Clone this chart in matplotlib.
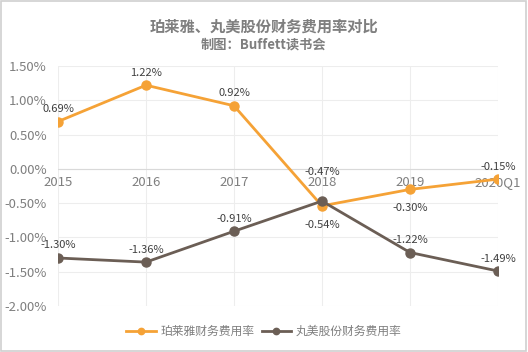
import matplotlib
matplotlib.use("Agg")
import matplotlib.pyplot as plt
from matplotlib.patches import Rectangle

plt.rcParams['font.family'] = ['Noto Sans CJK SC', 'DejaVu Sans']

categories = ['2015', '2016', '2017', '2018', '2019', '2020Q1']
proya = [0.69, 1.22, 0.92, -0.54, -0.30, -0.15]
marubi = [-1.30, -1.36, -0.91, -0.47, -1.22, -1.49]
proya_label_pos = ['above', 'above', 'above', 'below', 'below', 'above']
marubi_label_pos = ['above', 'above', 'above', 'high', 'above', 'above']
yticks = [1.5, 1.0, 0.5, 0.0, -0.5, -1.0, -1.5, -2.0]
series_names = ['珀莱雅财务费用率', '丸美股份财务费用率']
title = '珀莱雅、丸美股份财务费用率对比'
subtitle = '制图：Buffett读书会'

c_orange = '#F5A236'
c_brown = '#6B5E55'
grey = '#7F7F7F'
grid_c = '#EDEDED'

fig = plt.figure(figsize=(5.28, 3.52), dpi=100)
fig.patches.append(Rectangle((0.002, 0.003), 0.995, 0.993, transform=fig.transFigure,
                             fill=False, edgecolor='#D0D0D0', linewidth=1.2))
ax = fig.add_axes([0.1098, 0.1307, 0.8333, 0.6818])
x = list(range(len(categories)))

ax.plot(x, proya, color=c_orange, lw=2, marker='o', ms=6.5, label=series_names[0], zorder=3)
ax.plot(x, marubi, color=c_brown, lw=2, marker='o', ms=6.5, label=series_names[1], zorder=4)

ax.set_xlim(0, 5)
ax.set_ylim(-2.0, 1.5)
ax.set_yticks(yticks)
ax.set_yticklabels([f'{v:.2f}%' for v in yticks], color=grey, fontsize=9.5)
ax.set_xticks(x)
ax.set_xticklabels([])
ax.tick_params(length=0, pad=8)
ax.grid(True, color=grid_c, lw=0.8)
ax.set_axisbelow(True)
for s in ax.spines.values():
    s.set_visible(False)
ax.axhline(0, color='#D9D9D9', lw=0.8, zorder=1)

for xi, c in zip(x, categories):
    ax.text(xi, -0.10, c, ha='center', va='top', color=grey, fontsize=9.5, zorder=2)

offsets = {'above': 9, 'below': -13.5, 'high': 21}

def lab(vals, poss):
    for xi, v, p in zip(x, vals, poss):
        ax.annotate(f'{v:.2f}%', (xi, v), xytext=(0, offsets[p]), textcoords='offset points',
                    ha='center', va='center', fontsize=8, color='#404040', zorder=5)

lab(proya, proya_label_pos)
lab(marubi, marubi_label_pos)

fig.text(0.5, 0.925, title, ha='center', va='center', fontsize=11, fontweight='bold', color='#7F7F7F')
fig.text(0.5, 0.873, subtitle, ha='center', va='center', fontsize=9.5, fontweight='bold', color='#7F7F7F')

leg = fig.legend(loc='center', bbox_to_anchor=(0.5, 0.058), ncol=2, frameon=False,
                 fontsize=8.5, handlelength=2.5, columnspacing=0.6, handletextpad=0.4, markerscale=0.7)
for t in leg.get_texts():
    t.set_color(grey)

fig.savefig('out.png', dpi=100)
